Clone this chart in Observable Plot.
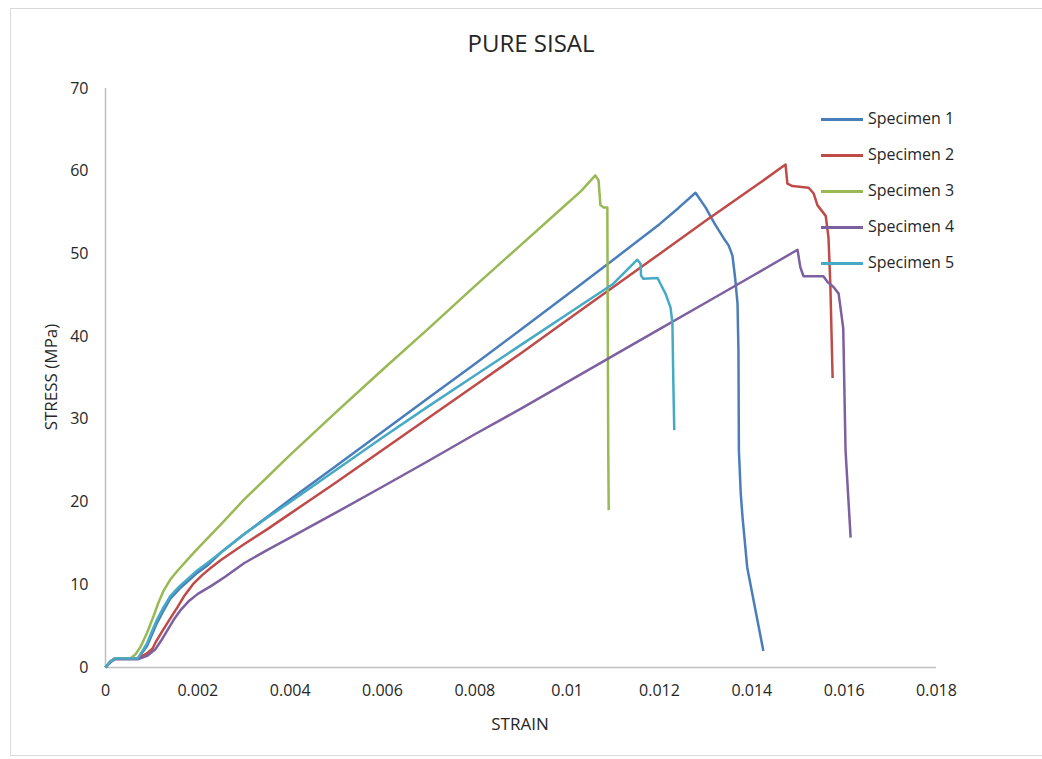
<!DOCTYPE html>
<html>
<head>
<meta charset="utf-8">
<script src="https://cdn.jsdelivr.net/npm/d3@7"></script>
<script src="https://cdn.jsdelivr.net/npm/@observablehq/plot@0.6"></script>
<style>
  html, body { margin: 0; padding: 0; background: #fff; }
  #wrap { position: relative; width: 1042px; height: 759px; font-family: "Open Sans", sans-serif; color: #262626; overflow: hidden; }
  #frame { position: absolute; left: 10px; top: 8px; width: 1040px; height: 748px; border: 1px solid #d9d9d9; box-sizing: border-box; }
  #chart { position: absolute; left: 0; top: 0; }
  .title { position: absolute; left: 0; width: 1062px; top: 26px; text-align: center; font-size: 24px; }
  .ylab { position: absolute; left: 50px; top: 377px; transform: translate(-50%, -50%) rotate(-90deg); font-size: 17px; white-space: nowrap; }
  .xlab { position: absolute; left: 520px; top: 723px; transform: translate(-50%, -50%); font-size: 17px; }
  .legend { position: absolute; left: 821px; top: 0; }
  .legend .item { position: absolute; left: 0; height: 20px; white-space: nowrap; font-size: 16px; }
  .legend .swatch { position: absolute; left: 0; top: 9px; width: 42px; height: 3px; }
  .legend .label { position: absolute; left: 47px; top: -2px; }
</style>
</head>
<body>
<div id="wrap">
  <div id="frame"></div>
  <div id="chart"></div>
  <div class="title">PURE SISAL</div>
  <div class="ylab">STRESS (MPa)</div>
  <div class="xlab">STRAIN</div>
  <div class="legend" id="legend"></div>
</div>
<script>
// Tensile test curves, pure sisal composite specimens
const specimens = ["Specimen 1", "Specimen 2", "Specimen 3", "Specimen 4", "Specimen 5"];
const colors = ["#4a7ebb", "#be4b48", "#98b954", "#7d60a0", "#46aac5"];

const xTicks = [0, 0.002, 0.004, 0.006, 0.008, 0.01, 0.012, 0.014, 0.016, 0.018];
const yTicks = [0, 10, 20, 30, 40, 50, 60, 70];

const strain1 = [0, 0.0001, 0.0002, 0.0007, 0.0009, 0.001, 0.0011, 0.00125, 0.0014, 0.0016, 0.0018, 0.002, 0.0022, 0.0025, 0.003, 0.0035, 0.004, 0.005, 0.006, 0.007, 0.008, 0.009, 0.01, 0.011, 0.012, 0.0124, 0.01278, 0.013, 0.0132, 0.01339, 0.0135, 0.01358, 0.01364, 0.01369, 0.01371, 0.01372, 0.01376, 0.0138, 0.0139, 0.01408, 0.01425];
const stress1 = [0, 0.7, 1.1, 1.1, 2.6, 3.9, 5.2, 6.8, 8.3, 9.5, 10.5, 11.5, 12.3, 13.9, 16.1, 18.2, 20.3, 24.4, 28.5, 32.6, 36.7, 40.85, 45.05, 49.3, 53.6, 55.5, 57.4, 55.6, 53.6, 51.9, 51.0, 49.8, 47, 44, 38.3, 26.2, 21, 18.1, 12.1, 6.9, 2];

const strain2 = [0, 0.0001, 0.0002, 0.0007, 0.0009, 0.00102, 0.0011, 0.00123, 0.0014, 0.00155, 0.0017, 0.0019, 0.0021, 0.00227, 0.0025, 0.003, 0.0035, 0.004, 0.005, 0.006, 0.007, 0.008, 0.009, 0.01, 0.011, 0.012, 0.013, 0.014, 0.01473, 0.01477, 0.01488, 0.01523, 0.01534, 0.01542, 0.0156, 0.01566, 0.0157, 0.01575];
const stress2 = [0, 0.7, 1.1, 1.1, 1.7, 2.3, 3.2, 4.4, 5.9, 7.2, 8.6, 10.1, 11.2, 12.0, 13.0, 14.9, 16.7, 18.6, 22.4, 26.3, 30.2, 34.1, 38.0, 42.0, 46.0, 50.0, 54.0, 57.9, 60.8, 58.5, 58.2, 58.0, 57.3, 55.9, 54.6, 52, 46.4, 35];

const strain3 = [0, 0.0001, 0.0002, 0.00054, 0.00065, 0.00076, 0.0009, 0.00104, 0.00115, 0.00126, 0.0014, 0.00156, 0.0018, 0.002, 0.0025, 0.003, 0.004, 0.005, 0.006, 0.007, 0.008, 0.009, 0.0098, 0.0103, 0.01061, 0.01068, 0.01072, 0.01079, 0.01087, 0.01089, 0.0109];
const stress3 = [0, 0.7, 1.1, 1.1, 1.6, 2.5, 4.2, 6.2, 7.9, 9.3, 10.6, 11.7, 13.2, 14.4, 17.3, 20.3, 25.7, 30.9, 36.0, 41.0, 46.1, 51.1, 55.1, 57.6, 59.5, 58.9, 55.9, 55.6, 55.6, 26.2, 19];

const strain4 = [0, 0.0001, 0.0002, 0.0007, 0.0009, 0.00108, 0.0012, 0.00134, 0.00148, 0.00162, 0.0018, 0.002, 0.0023, 0.0026, 0.003, 0.0035, 0.004, 0.005, 0.006, 0.007, 0.008, 0.009, 0.01, 0.011, 0.012, 0.013, 0.014, 0.01499, 0.01505, 0.01512, 0.01555, 0.01564, 0.01577, 0.01588, 0.01598, 0.01603, 0.01614];
const stress4 = [0, 0.6, 1.0, 1.0, 1.4, 2.2, 3.2, 4.5, 5.8, 6.9, 8.0, 8.9, 9.9, 11.0, 12.6, 14.2, 15.7, 18.75, 21.85, 25.0, 28.2, 31.3, 34.5, 37.7, 40.9, 44.1, 47.3, 50.5, 48.4, 47.3, 47.3, 46.6, 46, 45.2, 41, 26.2, 15.7];

const strain5 = [0, 0.0001, 0.0002, 0.0007, 0.0009, 0.001, 0.0011, 0.00125, 0.0014, 0.0016, 0.0018, 0.002, 0.0022, 0.0025, 0.003, 0.0035, 0.004, 0.005, 0.006, 0.007, 0.008, 0.009, 0.01, 0.011, 0.01152, 0.01159, 0.0116, 0.01165, 0.01196, 0.01202, 0.01213, 0.01224, 0.01228, 0.0123, 0.01232];
const stress5 = [0, 0.7, 1.1, 1.1, 2.9, 4.3, 5.6, 7.2, 8.6, 9.8, 10.8, 11.8, 12.6, 13.9, 16.1, 18.1, 20.0, 23.9, 27.8, 31.6, 35.3, 39.0, 42.7, 46.4, 49.3, 48.8, 47.4, 47.0, 47.1, 46.4, 45.2, 43.5, 41.6, 34.3, 28.7];

const strains = [strain1, strain2, strain3, strain4, strain5];
const stresses = [stress1, stress2, stress3, stress4, stress5];

const rows = specimens.flatMap((name, i) =>
  strains[i].map((s, j) => ({name, strain: s, stress: stresses[i][j]}))
);

const axisGray = "#bfbfbf";

const chart = Plot.plot({
  width: 1042,
  height: 759,
  marginLeft: 105,
  marginRight: 106,
  marginTop: 88,
  marginBottom: 92,
  style: {fontFamily: "Open Sans, sans-serif", fontSize: "16px", color: "#262626", background: "transparent"},
  x: {domain: [0, 0.018]},
  y: {domain: [0, 70]},
  color: {domain: specimens, range: colors},
  marks: [
    Plot.axisX({ticks: xTicks, tickSize: 0, tickPadding: 17, tickFormat: d => String(+d.toFixed(3)), label: null}),
    Plot.axisY({ticks: yTicks, tickSize: 0, tickPadding: 17, label: null}),
    Plot.ruleX([0], {stroke: axisGray, strokeWidth: 1.5}),
    Plot.ruleY([0], {stroke: axisGray, strokeWidth: 1.5}),
    Plot.line(rows, {x: "strain", y: "stress", z: "name", stroke: "name", strokeWidth: 2.5, strokeLinejoin: "round", strokeLinecap: "butt"})
  ]
});
document.getElementById("chart").appendChild(chart);

// legend entries, one row per specimen
const legend = document.getElementById("legend");
specimens.forEach((name, i) => {
  const item = document.createElement("div");
  item.className = "item";
  item.style.top = (109 + i * 36) + "px";
  const sw = document.createElement("div");
  sw.className = "swatch";
  sw.style.background = colors[i];
  const lab = document.createElement("div");
  lab.className = "label";
  lab.textContent = name;
  item.appendChild(sw);
  item.appendChild(lab);
  legend.appendChild(item);
});
</script>
</body>
</html>
